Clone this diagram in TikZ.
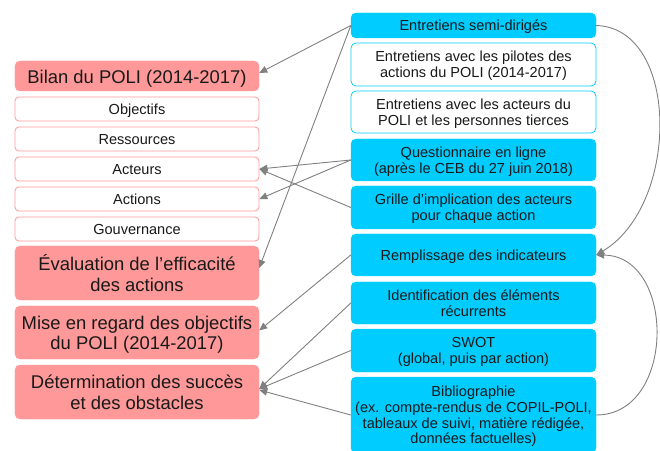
\documentclass[tikz,border=0pt]{standalone}
\usepackage{fontspec}
\setmainfont{Liberation Sans}
\usetikzlibrary{arrows.meta}
\definecolor{salmon}{HTML}{FF9999}
\definecolor{cyanb}{HTML}{00CCFF}
\definecolor{conn}{HTML}{808080}
\newcommand\txbig[1]{\raisebox{-3bp}[\height][\depth]{\begin{tabular}{@{}c@{}}#1\end{tabular}}}
\newcommand\txsm[1]{\raisebox{-2bp}[\height][\depth]{\begin{tabular}{@{}c@{}}#1\end{tabular}}}
\tikzset{
  lbig/.style={draw=salmon, fill=salmon, rounded corners=5bp, minimum width=244bp, inner sep=0pt, font=\fontsize{18.5}{20.7}\selectfont, text=black!90},
  lsmall/.style={draw=salmon, fill=white, line width=0.8bp, rounded corners=4bp, minimum width=244bp, minimum height=24bp, inner sep=0pt, font=\fontsize{14.6}{16.5}\selectfont, text=black!90},
  rfill/.style={draw=cyanb, fill=cyanb, rounded corners=5bp, minimum width=245bp, inner sep=0pt, font=\fontsize{14.6}{16.3}\selectfont, text=black!90},
  rwhite/.style={draw=cyanb, fill=white, line width=0.8bp, rounded corners=5bp, minimum width=245bp, inner sep=0pt, font=\fontsize{14.6}{16.3}\selectfont, text=black!90},
  link/.style={draw=conn, line width=0.9bp, -{Triangle[length=8bp,width=7bp]}},
}
\begin{document}
\begin{tikzpicture}[x=1bp,y=-1bp]
\useasboundingbox (0,0) rectangle (660,451);
% left column
\node[lbig, minimum height=30bp] (bilan) at (137,76) {\txbig{Bilan du POLI (2014-2017)}};
\node[lsmall] (obj) at (137,109) {\txsm{Objectifs}};
\node[lsmall] (res) at (137,139) {\txsm{Ressources}};
\node[lsmall] (act) at (137,169) {\txsm{Acteurs}};
\node[lsmall] (acn) at (137,199) {\txsm{Actions}};
\node[lsmall] (gov) at (137,229) {\txsm{Gouvernance}};
\node[lbig, minimum height=54bp] (eval) at (137,273) {\txbig{Évaluation de l'efficacité\\des actions}};
\node[lbig, minimum height=53bp] (mise) at (137,332.5) {\txbig{Mise en regard des objectifs\\du POLI (2014-2017)}};
\node[lbig, minimum height=54bp] (det) at (137,392) {\txbig{Détermination des succès\\et des obstacles}};
% right column
\node[rfill, minimum height=25bp] (semi) at (473.5,25.5) {\txsm{Entretiens semi-dirigés}};
\node[rwhite, minimum height=43bp] (pil) at (473.5,64.5) {\txsm{Entretiens avec les pilotes des\\actions du POLI (2014-2017)}};
\node[rwhite, minimum height=42bp] (acp) at (473.5,112) {\txsm{Entretiens avec les acteurs du\\POLI et les personnes tierces}};
\node[rfill, minimum height=42bp] (quest) at (473.5,160) {\txsm{Questionnaire en ligne\\(après le CEB du 27 juin 2018)}};
\node[rfill, minimum height=43bp] (grille) at (473.5,207.5) {\txsm{Grille d’implication des acteurs\\pour chaque action}};
\node[rfill, minimum height=42bp] (remp) at (473.5,255) {\txsm{Remplissage des indicateurs}};
\node[rfill, minimum height=42bp] (ident) at (473.5,303) {\txsm{Identification des éléments\\récurrents}};
\node[rfill, minimum height=43bp] (swot) at (473.5,350.5) {\txsm{SWOT\\(global, puis par action)}};
\node[rfill, minimum height=76bp, font=\fontsize{14.6}{15.9}\selectfont] (biblio) at (473.5,415) {\txsm{Bibliographie\\(ex. compte-rendus de COPIL-POLI,\\tableaux de suivi, matière rédigée,\\données factuelles)}};
% connectors
\draw[link] (semi.west) -- ([yshift=3bp]bilan.east);
\draw[link] (semi.west) -- ([yshift=5bp]eval.east);
\draw[link] (quest.west) -- (act.east);
\draw[link] (quest.west) -- (acn.east);
\draw[link] (grille.west) -- (act.east);
\draw[link] (remp.west) -- ([yshift=2bp]mise.east);
\draw[link] (ident.west) -- ([yshift=3bp]det.east);
\draw[link] (swot.west) -- ([yshift=3bp]det.east);
\draw[link] (biblio.west) -- ([yshift=2bp]det.east);
\draw[link] (semi.east) .. controls (680,28) and (680,205) .. (remp.east);
\draw[link] (biblio.east) .. controls (676,415) and (676,256) .. (remp.east);
\end{tikzpicture}
\end{document}
